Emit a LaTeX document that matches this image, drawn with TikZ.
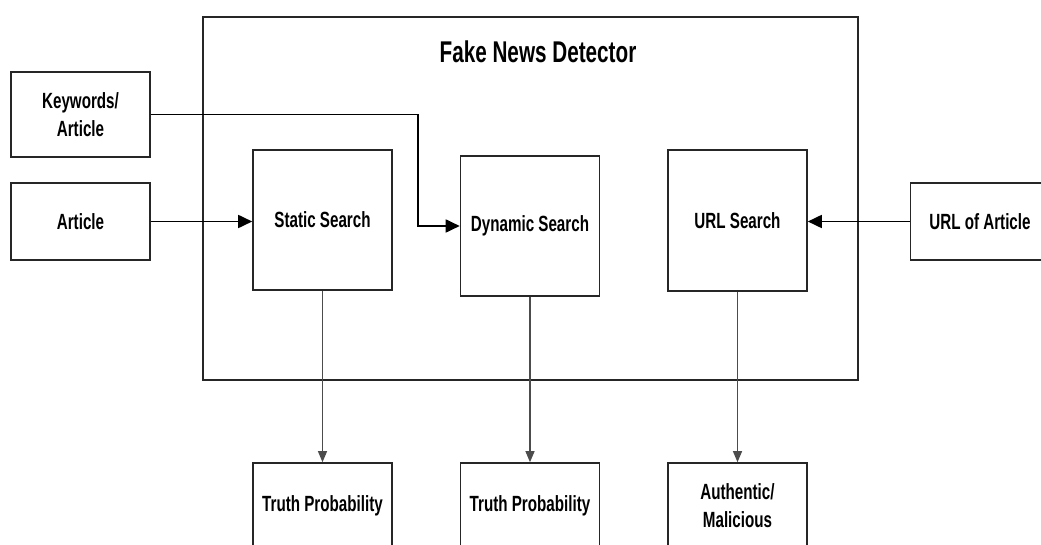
\documentclass[tikz,border=0pt]{standalone}
\usepackage{fontspec}
\setmainfont{Liberation Sans}[FakeStretch=0.69]
\usetikzlibrary{arrows.meta}
\begin{document}
\begin{tikzpicture}[x=1pt, y=-1pt,
  box/.style={draw=black!85, line width=1.6pt, minimum width=139pt, align=center,
    inner sep=0pt, font=\fontsize{22}{28}\selectfont\bfseries},
  thick arrow/.style={line width=1.8pt, -{Triangle[length=14pt, width=13pt]}},
  thin arrow/.style={line width=1.1pt, draw=black!70, -{Triangle[length=11pt, width=9pt]}}]
  \useasboundingbox (0,0) rectangle (1041,545);
  \clip (0,0) rectangle (1041,545);
  % Detector
  \node[draw=black!85, line width=1.6pt, minimum width=655pt, minimum height=363pt] (detector) at (530.5,198.5) {};
  \node[font=\fontsize{30}{35}\selectfont\bfseries] (title) at (538,52) {Fake News Detector};
  % Inputs
  \node[box, minimum height=85pt] (keywords) at (80.5,114.5) {Keywords/\\Article};
  \node[box, minimum height=77pt] (article) at (80.5,221.5) {Article};
  \node[box, minimum height=77pt] (urlarticle) at (980,221.5) {URL of Article};
  % Searches
  \node[box, minimum height=140pt] (static) at (322.5,220) {Static Search};
  \node[box, minimum height=140pt] (dynamic) at (530,226) {Dynamic Search};
  \node[box, minimum height=141pt] (url) at (737.5,220.5) {URL Search};
  % Outputs
  \node[box, minimum height=85pt] (truthstatic) at (322.5,505.5) {Truth Probability};
  \node[box, minimum height=85pt] (truthdynamic) at (530,505.5) {Truth Probability};
  \node[box, minimum height=85pt] (authentic) at (737.5,505.5) {Authentic/\\Malicious};
  % Connectors
  \coordinate (bend) at (418,114.5);
  \draw[thick arrow] (article.east) -- (article.east -| static.west);
  \draw[thick arrow] (keywords.east) -- (bend) |- (dynamic.west);
  \draw[thick arrow] (urlarticle.west) -- (urlarticle.west -| url.east);
  \draw[thin arrow] (static) -- (truthstatic);
  \draw[thin arrow] (dynamic) -- (truthdynamic);
  \draw[thin arrow] (url) -- (authentic);
\end{tikzpicture}
\end{document}
